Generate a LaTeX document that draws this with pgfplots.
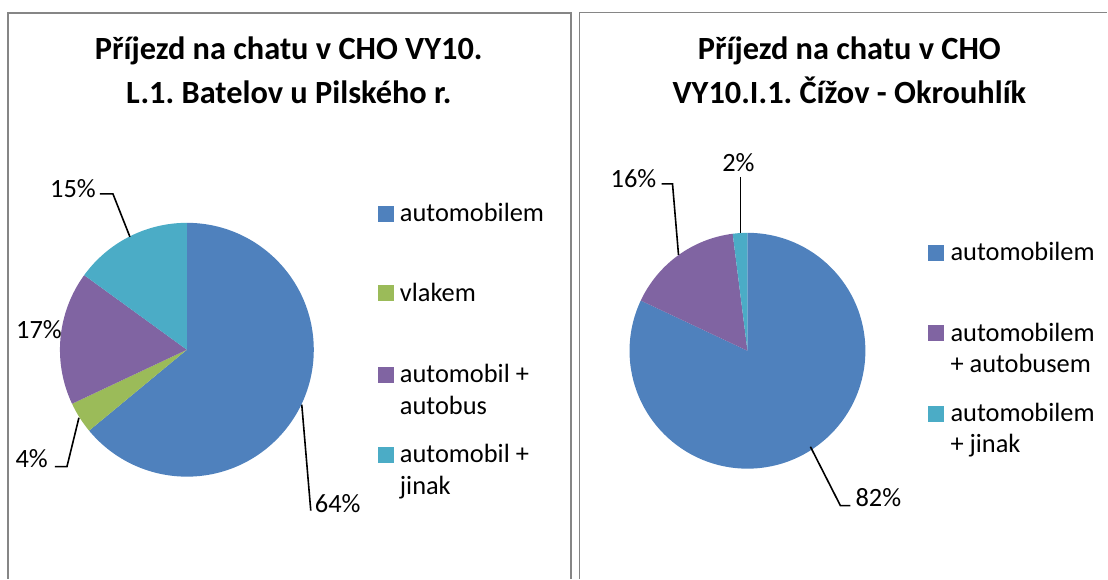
\documentclass[border=0pt]{standalone}
\usepackage{pgfplots}
\usepackage{pgfplotstable}
\pgfplotsset{compat=1.18}
\usepackage{fontspec}
\setmainfont{Carlito}

\definecolor{pieblue}{RGB}{79,129,189}
\definecolor{piegreen}{RGB}{155,187,89}
\definecolor{piepurple}{RGB}{128,100,162}
\definecolor{pieteal}{RGB}{75,172,198}
\definecolor{frame}{RGB}{134,134,134}

% shares in percent, clockwise from 12 o'clock
\pgfplotstableread{
share color
64 pieblue
4  piegreen
17 piepurple
15 pieteal
}\batelov

\pgfplotstableread{
share color
82 pieblue
16 piepurple
2  pieteal
}\cizov

% slices of table #1 around (#2,#3) with radius #4 (axis units = bp)
\newcommand\drawpie[4]{%
  \gdef\startang{90}%
  \pgfplotstableforeachcolumnelement{share}\of#1\as\sh{%
    \pgfplotstablegetelem{\pgfplotstablerow}{color}\of#1\let\col\pgfplotsretval
    \pgfmathsetmacro\endang{\startang-3.6*\sh}%
    \edef\temp{\noexpand\fill[\col] (axis cs:#2,#3) -- ++(\startang:#4bp)
      arc[start angle=\startang, end angle=\endang, radius=#4bp] -- cycle;}%
    \temp
    \xdef\startang{\endang}%
  }%
}

\begin{document}
\frenchspacing
\begin{tikzpicture}
\begin{axis}[hide axis, clip=false, x=1bp, y=1bp,
  xmin=0, xmax=1108, ymin=0, ymax=579]
\path (axis cs:0,0) rectangle (axis cs:1108,579);

% panel frames
\draw[frame, line width=2bp] (8,0) -- (8,566) -- (571,566) -- (571,0);
\draw[frame, line width=1.6bp] (580,0) -- (580,566.5) -- (1108,566.5);

% pies
\drawpie{\batelov}{187}{229}{127}
\drawpie{\cizov}{748}{228}{118}

% titles
\begin{scope}[every node/.style={font=\fontsize{32.5}{44}\selectfont\bfseries, anchor=base, inner sep=0pt}]
\node at (289,519) {Příjezd na chatu v CHO VY10.};
\node at (289,475) {L.1. Batelov u Pilského r.};
\node at (850,519) {Příjezd na chatu v CHO};
\node at (850,475) {VY10.I.1. Čížov - Okrouhlík};
\end{scope}

\begin{scope}[every node/.style={font=\fontsize{26.5}{32}\selectfont, inner sep=0pt}]
% left data labels
\draw[line width=1.6bp] (100,385) -- (113,385) -- (130,342);
\node[anchor=base east] at (96,381.5) {15\%};
\node[anchor=base west] at (16,240.5) {17\%};
\draw[line width=1.6bp] (55,112) -- (67,112) -- (79,161);
\node[anchor=base east] at (48,111.5) {4\%};
\draw[line width=1.6bp] (302,174) -- (311,68);
\node[anchor=base west] at (315,66.5) {64\%};

% right data labels
\draw[line width=1.6bp] (662,395) -- (673,395) -- (679,324);
\node[anchor=base east] at (657,391.5) {16\%};
\draw[line width=1.6bp] (741,402) -- (741,346);
\node[anchor=base] at (739,407.5) {2\%};
\draw[line width=1.6bp] (811,132) -- (841,73) -- (851,73);
\node[anchor=base west] at (856,72.5) {82\%};

% left legend
\fill[pieblue]   (378,357.3) rectangle (394,373.3);
\node[anchor=base west] at (400,357.3) {automobilem};
\fill[piegreen]  (378,277.3) rectangle (394,293.3);
\node[anchor=base west] at (400,277.3) {vlakem};
\fill[piepurple] (378,196) rectangle (394,212);
\node[anchor=base west] at (400,196) {automobil +};
\node[anchor=base west] at (400,164) {autobus};
\fill[pieteal]   (378,116) rectangle (394,132);
\node[anchor=base west] at (400,116) {automobil +};
\node[anchor=base west] at (400,84) {jinak};

% right legend
\fill[pieblue]   (929,318.3) rectangle (945,334.3);
\node[anchor=base west] at (951,318.3) {automobilem};
\fill[piepurple] (929,237.3) rectangle (945,253.3);
\node[anchor=base west] at (951,237.3) {automobilem};
\node[anchor=base west] at (951,206) {+ autobusem};
\fill[pieteal]   (929,157) rectangle (945,173);
\node[anchor=base west] at (951,157) {automobilem};
\node[anchor=base west] at (951,126) {+ jinak};
\end{scope}
\end{axis}
\end{tikzpicture}
\end{document}
